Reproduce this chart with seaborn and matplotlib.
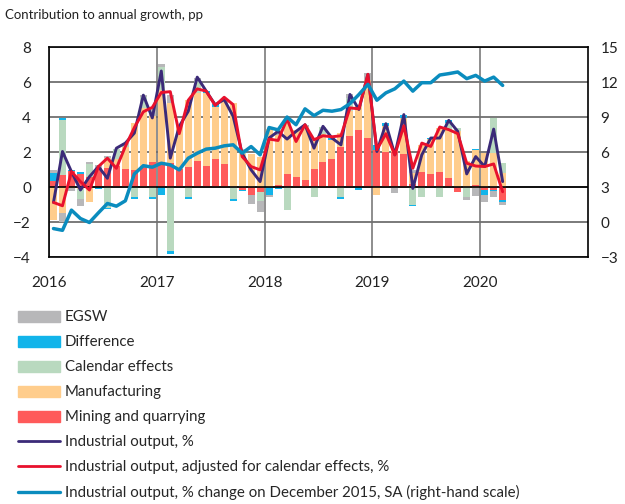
import numpy as np
import pandas as pd
import seaborn as sns
import matplotlib.pyplot as plt
from matplotlib.patches import Patch
from matplotlib.lines import Line2D

# Monthly contributions, Jan 2016 - Mar 2020 (pp)
months = pd.date_range("2016-01-01", "2020-03-01", freq="MS")

mining = [0.35, 0.67, 0.9, 0.75, 0.6, 1.1, 1.1, 1.2, 1.05, 1.0, 1.2, 1.45,
          1.45, 1.38, 1.05, 1.15, 1.5, 1.2, 1.63, 1.3, 0.0, -0.15, -0.48, -0.29,
          0.0, 0.1, 0.77, 0.57, 0.38, 1.05, 1.45, 1.63, 2.3, 2.93, 3.26, 2.78,
          2.1, 2.03, 2.0, 1.9, 0.2, 0.88, 0.75, 0.86, 0.5, -0.27, 0.0, 0.1,
          -0.17, -0.15, -0.75]
manufacturing = [-1.9, -1.5, -0.05, -0.1, -0.85, 0.0, 0.55, 0.4, 1.25, 2.64, 3.3, 2.6,
                 4.1, 3.4, 2.4, 3.8, 3.9, 4.2, 2.97, 3.68, 4.8, 1.9, 1.9, 1.7,
                 3.3, 2.87, 3.2, 2.7, 3.03, 1.6, 1.6, 1.05, 0.8, 1.4, 1.44, 3.35,
                 -0.46, 1.44, 0.2, 2.05, 0.6, 1.5, 2.0, 2.5, 2.78, 3.2, 1.46, 2.0,
                 1.93, 1.93, 0.78]
calendar = [0.0, 3.15, 0.0, -0.57, 0.7, 0.0, -1.2, 0.6, 0.2, -0.57, 0.65, -0.57,
            1.3, -3.64, 0.1, -0.57, 0.65, 0.0, 0.0, 0.0, -0.67, 0.3, 0.0, -0.48,
            0.0, 0.0, -1.3, 0.0, 0.0, -0.57, 0.4, 0.0, -0.57, 0.77, 0.0, 0.0,
            0.0, 0.0, 0.0, 0.0, -1.0, -0.55, 0.0, -0.55, 0.4, 0.15, -0.55, 0.0,
            0.0, 2.0, 0.57]
difference = [0.48, 0.15, 0.1, 0.1, 0.0, -0.13, -0.05, 0.0, 0.0, -0.1, 0.0, -0.1,
              -0.45, -0.2, 0.0, -0.13, 0.0, 0.1, 0.15, 0.0, -0.1, -0.1, 0.0, -0.05,
              -0.45, -0.1, 0.0, 0.0, 0.0, 0.0, 0.0, 0.1, -0.1, 0.0, -0.15, 0.0,
              0.29, 0.19, 0.0, 0.19, -0.1, 0.0, 0.05, 0.0, 0.15, 0.0, 0.0, 0.1,
              -0.29, -0.1, -0.1]
egsw = [0.17, -0.5, -0.15, -0.4, 0.13, 0.15, 0.1, 0.0, 0.0, 0.0, 0.1, 0.5,
        0.2, 0.5, 0.0, 0.05, 0.2, 0.0, 0.0, 0.0, 0.0, 0.0, -0.5, -0.6,
        -0.1, 0.29, 0.0, 0.0, 0.15, 0.1, 0.0, 0.0, 0.0, 0.2, 0.0, 0.38,
        0.0, 0.0, -0.36, 0.0, 0.2, 0.0, 0.0, 0.0, 0.0, 0.0, -0.19, -0.5,
        -0.38, -0.3, -0.2]

output = [-0.88, 2.03, 0.88, -0.17, 0.59, 1.17, 0.5, 2.22, 2.51, 3.08, 5.25, 3.95,
          6.63, 1.65, 3.47, 4.33, 6.28, 5.48, 4.7, 5.0, 4.04, 1.93, 0.98, 0.31,
          2.8, 3.18, 2.74, 3.18, 3.56, 2.22, 3.47, 2.8, 2.41, 5.29, 4.43, 6.44,
          2.03, 3.62, 1.84, 4.14, -0.08, 1.84, 2.8, 2.8, 3.81, 3.18, 0.75, 1.74,
          1.17, 3.31, 0.31]
output_adj = [-0.88, -1.07, 0.88, 0.31, -0.17, 1.17, 1.65, 1.07, 2.32, 3.4, 4.3, 4.55,
              5.4, 5.45, 3.05, 4.96, 5.61, 5.48, 4.66, 5.13, 4.71, 1.74, 1.17, 0.98,
              2.74, 2.66, 3.89, 2.6, 3.56, 2.7, 2.93, 2.87, 2.93, 4.52, 4.47, 6.44,
              2.13, 3.05, 1.84, 3.5, 1.07, 2.51, 2.32, 3.43, 3.28, 3.05, 1.36, 1.2,
              1.17, 1.32, -0.27]
output_sa = [-0.56, -0.71, 1.02, 0.3, -0.04, 0.79, 1.59, 1.36, 1.82, 4.12, 4.83, 4.7,
             5.04, 4.9, 4.47, 5.47, 5.9, 6.25, 6.33, 6.53, 6.62, 5.9, 6.47, 5.76,
             8.1, 7.9, 9.0, 8.34, 9.7, 9.12, 9.58, 9.5, 9.64, 10.15, 10.93, 11.8,
             10.44, 11.07, 11.42, 12.08, 11.22, 11.94, 11.94, 12.6, 12.72, 12.86, 12.29, 12.57,
             12.08, 12.42, 11.71]

years = ["2016", "2017", "2018", "2019", "2020"]

sns.set_theme(style="white")
plt.rcParams["font.family"] = ["Lato", "DejaVu Sans"]

fig = plt.figure(figsize=(6.25, 5.04), dpi=100)
ax = fig.add_axes([0.0784, 0.49, 0.8624, 0.4167])

x = np.arange(len(months)) + 0.5

components = [
    ("Mining and quarrying", mining, "#ff5a5a"),
    ("Manufacturing", manufacturing, "#ffcd8c"),
    ("Calendar effects", calendar, "#b9d9bf"),
    ("Difference", difference, "#12b4ea"),
    ("EGSW", egsw, "#b7b7b9"),
]
pos_base = np.zeros(len(x))
neg_base = np.zeros(len(x))
for name, vals, col in components:
    v = np.array(vals)
    p = np.where(v > 0, v, 0)
    n = np.where(v < 0, v, 0)
    ax.bar(x, p, bottom=pos_base, width=0.78, color=col, linewidth=0, zorder=2)
    ax.bar(x, n, bottom=neg_base, width=0.78, color=col, linewidth=0, zorder=2)
    pos_base += p
    neg_base += n

ax.axhline(0, color="black", lw=1.2, zorder=2.5)
sns.lineplot(x=x, y=output, ax=ax, color="#3b2a78", lw=2.1, zorder=3)
sns.lineplot(x=x, y=output_adj, ax=ax, color="#e8112d", lw=2.1, zorder=4)

ax.set_xlim(0, 60)
ax.set_ylim(-4, 8)
ax.set_yticks(range(-4, 9, 2))
ax.set_xticks([0, 12, 24, 36, 48])
ax.set_xticklabels(years)
ax.set_axisbelow(True)
ax.yaxis.grid(True, color="#6f6f6f", lw=1.3)
ax.xaxis.grid(True, color="#6f6f6f", lw=1.1)
ax.tick_params(axis="both", length=0, labelsize=11, colors="#222222")
ax.tick_params(axis="x", pad=14)
ax.tick_params(axis="y", pad=13)
for s in ax.spines.values():
    s.set_color("black")
    s.set_linewidth(1.2)

ax2 = ax.twinx()
sns.lineplot(x=x, y=output_sa, ax=ax2, color="#0a8cbe", lw=2.5)
ax2.set_ylim(-3, 15)
ax2.set_yticks(range(-3, 16, 3))
ax2.tick_params(axis="y", length=0, labelsize=11, colors="#222222", pad=9)
ax2.grid(False)
for s in ax2.spines.values():
    s.set_visible(False)
ax.set_ylabel("")
ax2.set_ylabel("")

fig.text(0.008, 0.97, "Contribution to annual growth, pp", fontsize=9.5,
         color="#222222", va="center", ha="left")

handles = [
    Patch(color="#b7b7b9", label="EGSW"),
    Patch(color="#12b4ea", label="Difference"),
    Patch(color="#b9d9bf", label="Calendar effects"),
    Patch(color="#ffcd8c", label="Manufacturing"),
    Patch(color="#ff5a5a", label="Mining and quarrying"),
    Line2D([], [], color="#3b2a78", lw=2, label="Industrial output, %"),
    Line2D([], [], color="#e8112d", lw=2, label="Industrial output, adjusted for calendar effects, %"),
    Line2D([], [], color="#0a8cbe", lw=2.4,
           label="Industrial output, % change on December 2015, SA (right-hand scale)"),
]
fig.legend(handles=handles, loc="upper left", bbox_to_anchor=(0.028, 0.384),
           frameon=False, fontsize=10.8, handlelength=2.85, handleheight=0.75,
           handletextpad=0.3, labelspacing=0.73, borderaxespad=0, borderpad=0)

fig.savefig("out.png", dpi=100)
